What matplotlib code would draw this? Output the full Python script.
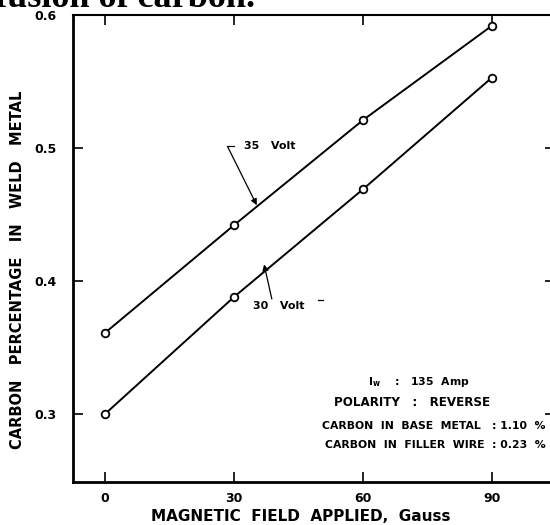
import matplotlib
matplotlib.use("Agg")
import matplotlib.pyplot as plt
import numpy as np

# magnetic field (Gauss) and carbon % in weld metal
field = [0, 30, 60, 90]
carbon_35v = [0.361, 0.442, 0.521, 0.592]
carbon_30v = [0.300, 0.388, 0.469, 0.553]

xticks = [0, 30, 60, 90]
yticks = [0.3, 0.4, 0.5, 0.6]
ytick_labels = ["0.3", "0.4", "0.5", "0.6"]

info_lines = [r"I$_{\mathbf{w}}$    :   135  Amp",
              "POLARITY   :   REVERSE",
              "CARBON  IN  BASE  METAL   : 1.10  %",
              "CARBON  IN  FILLER  WIRE  : 0.23  %"]

plt.rcParams['font.family'] = ['DejaVu Sans']

fig = plt.figure(figsize=(5.5, 5.25), dpi=100)
ax = fig.add_axes([0.1327, 0.0819, 0.876, 0.8895])

for ys in (carbon_35v, carbon_30v):
	ax.plot(field, ys, color='black', lw=1.4, marker='o', ms=5.5,
			mfc='white', mec='black', mew=1.3, zorder=3)

ax.set_xlim(-7.44, 104.6)
ax.set_ylim(0.2489, 0.6)

ax.set_xticks(xticks)
ax.set_xticklabels([str(v) for v in xticks], fontsize=9, fontweight='bold')
ax.set_yticks(yticks)
ax.set_yticklabels(ytick_labels, fontsize=9, fontweight='bold')
ax.tick_params(axis='both', direction='in', length=7, width=1.2,
			   top=True, right=True, pad=7)
ax.tick_params(axis='y', pad=12)

for side in ['left', 'bottom']:
	ax.spines[side].set_linewidth(2.0)
ax.spines['top'].set_linewidth(1.5)
ax.spines['right'].set_linewidth(1.5)

ax.set_xlabel("MAGNETIC  FIELD  APPLIED,  Gauss", fontsize=11,
			  fontweight='bold')
ax.xaxis.set_label_coords(0.473, -0.057)
ax.set_ylabel("CARBON   PERCENTAGE   IN   WELD   METAL", fontsize=10.5,
			  fontweight='bold')
ax.yaxis.set_label_coords(-0.1, 0.454)

# curve labels with leader arrows
arrow = dict(arrowstyle='-|>', color='black', lw=0.9,
			 mutation_scale=9, shrinkA=0, shrinkB=0)
ax.annotate("", xy=(35.3, 0.457), xytext=(28.6, 0.5005), arrowprops=arrow)
ax.plot([28.4, 30.0], [0.5012, 0.5012], color='black', lw=0.9)
ax.text(32.4, 0.5012, "35   Volt", fontsize=8, fontweight='bold', va='center')

ax.annotate("", xy=(37.0, 0.4125), xytext=(38.8, 0.3865), arrowprops=arrow)
ax.text(34.4, 0.3815, "30   Volt", fontsize=8, fontweight='bold', va='center')
ax.plot([49.6, 50.8], [0.3855, 0.3855], color='black', lw=0.9)

# process conditions
info_x = [419, 412, 546, 546]
info_ha = ['center', 'center', 'right', 'right']
info_y = [382, 402, 426, 445]
info_size = [7.8, 8.6, 7.8, 7.8]
for s, xx, yy, ha, fs in zip(info_lines, info_x, info_y, info_ha, info_size):
	fig.text(xx / 550, 1 - yy / 525, s, fontsize=fs, fontweight='bold',
			 ha=ha, va='center')

# cut-off caption text at top of the page
fig.text(255 / 550, 1 - 7 / 525, "diffusion of carbon.", fontsize=26,
		 fontweight='bold', family='Liberation Serif', ha='right', va='baseline')

fig.savefig("out.png", dpi=100)
